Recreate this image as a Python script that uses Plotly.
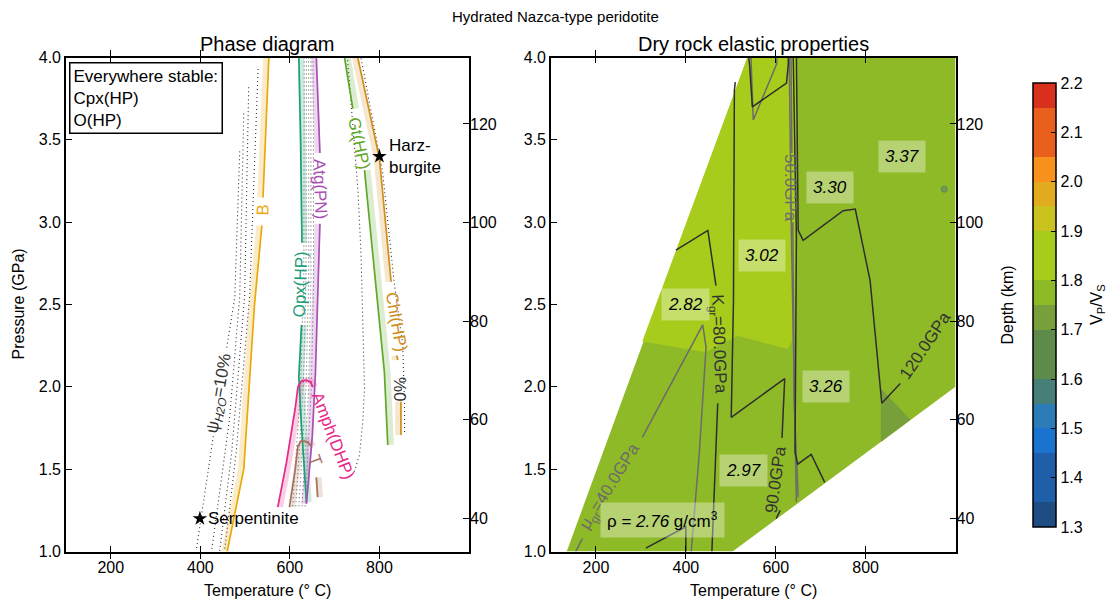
import plotly.graph_objects as go

W, H = 1110, 604
FONT = "Liberation Sans, Arial, sans-serif"

# ---------------- axes ----------------
T_RANGE = [100, 1000]
P_RANGE = [1.0, 4.0]
DEPTH_RANGE = [33.27, 133.49]
T_TICKS = [200, 400, 600, 800]
P_TICKS = [1.0, 1.5, 2.0, 2.5, 3.0, 3.5, 4.0]
DEPTH_TICKS = [40, 60, 80, 100, 120]
VPVS_TICKS = [1.3, 1.4, 1.5, 1.6, 1.7, 1.8, 1.9, 2.0, 2.1, 2.2]

# ---------------- phase diagram: stability lines (T in C, P in GPa) ----------------
B_T = [553, 545, 540, None, 537.5, 521, 509, 497, 460]
B_P = [4.0, 3.5, 3.15, None, 2.98, 2.5, 2.0, 1.5, 1.0]
OPX_T = [620, 624, 627, None, 626, 622, 620, 625, 631, 637]
OPX_P = [4.0, 3.5, 2.875, None, 2.375, 2.2, 2.06, 1.8, 1.51, 1.30]
ATG_T = [659, 667, None, 667, 663, 657, 650, 637]
ATG_P = [4.0, 3.42, None, 2.99, 2.65, 2.08, 1.7, 1.29]
GT_T = [722, 740.5, None, 766.6, 792.6, 811, 818.6]
GT_P = [4.0, 3.69, None, 3.316, 2.6, 2.09, 1.647]
CHL_T = [751.6, 800, 826, None, 839, 841, None, 848, 848]
CHL_P = [4.0, 3.387, 2.638, None, 2.19, 2.163, None, 1.91, 1.707]
AMPH_T = [573, 592, 612, 618, 626, 637, 646, 651]
AMPH_P = [1.27, 1.535, 1.87, 2.0, 2.035, 2.04, 2.03, 2.0]
TALC_T = [599, 612, 618, 625, 633, 641, 648, None, 659, 662]
TALC_P = [1.27, 1.5, 1.64, 1.67, 1.67, 1.66, 1.64, None, 1.45, 1.33]

# water-content (psi_H2O) dotted contours
PSI1_T = [488, 477, 458, None, 429, 391]
PSI1_P = [3.43, 2.547, 2.22, None, 1.70, 1.01]
PSI2_T = [497, 488, 465, 425]
PSI2_P = [3.66, 2.55, 1.8, 1.0]
PSI3_T = [508, 499, 470, 443]
PSI3_P = [3.82, 2.55, 1.6, 1.0]
PSI4_T = [529, 510, 480, 454]
PSI4_P = [3.93, 2.55, 1.6, 1.0]
HATCH_P = [4.0, 2.65, 2.0, 1.27]
HATCH_T = [
    [632, 631, 624, 606],
    [637, 636, 630, 613],
    [642, 642, 636, 620],
    [647, 647, 642, 627],
    [652, 653, 648, 634],
]
PSIR1_T = [729, 751.7, 759, 762.8, 766.6, 762.8, 755.4, 744]
PSIR1_P = [3.984, 3.205, 2.80, 2.395, 1.991, 1.788, 1.586, 1.485]
PSIR2_T = [759, 783, 807, 833.5, 852, 856, 856]
PSIR2_P = [3.995, 3.65, 3.306, 2.618, 2.254, 1.9, 1.707]

# phase labels: text, T, P, angle, colour key
PHASE_LABELS = [
    ("B", 540, 3.07, -88, "B"),
    ("Opx(HP)", 624, 2.62, -88, "OPX"),
    ("Atg(PN)", 668, 3.2, 88, "ATG"),
    ("Gt(HP)", 755, 3.48, 78, "GT"),
    ("Chl(HP)", 837, 2.395, 80, "CHL"),
    ("Amph(DHP)", 697, 1.70, 69, "AMPH"),
    ("T", 655, 1.556, 70, "TALC"),
    ("0%", 848, 1.99, -90, "DOT"),
    ("ψ<sub><i>H2O</i></sub>=10%", 445, 1.96, -80, "DOT"),
]

# rock samples
SAMPLE_NAMES = ["Harz-<br>burgite", "Serpentinite"]
SAMPLE_T = [800, 399]
SAMPLE_P = [3.40, 1.20]

# ---------------- elastic properties panel ----------------
VPVS_LEVELS = [1.3, 1.35, 1.45, 1.5, 1.55, 1.6, 1.7, 1.75, 1.8, 1.9, 1.95, 2.0, 2.05, 2.15, 2.2]
VPVS_COLORS = ["#1d4d82", "#1f5ea8", "#1a73cf", "#2c7cb8", "#457f78", "#5e8a4a", "#78a03a",
               "#8fba28", "#a8cc1c", "#c9c21f", "#e2ab1e", "#f7921d", "#e9601c", "#d9311e"]

REGION_MAIN_T = [135, 537, 1000, 1000, 504]
REGION_MAIN_P = [1.0, 4.0, 4.0, 2.0, 1.0]
REGION_MAIN_V = 1.78
REGION_UP_T = [537, 646, 645, 640, 627, 515, 445, 303]
REGION_UP_P = [4.0, 4.0, 3.0, 2.3, 2.23, 2.31, 2.21, 2.275]
REGION_UP_V = 1.85
REGION_PATCH_T = [834, 834, 900]
REGION_PATCH_P = [1.99, 1.665, 1.80]
REGION_PATCH_V = 1.73
SPOT_T, SPOT_P = [975], [3.20]

# bulk modulus (dark) and shear modulus (grey) contours
K_LINES = [
    ([378, 449, 467], [2.83, 2.95, 2.615]),
    ([471, 465, 458], [1.90, 1.5, 1.0]),
    ([311, 400, 400], [1.02, 1.15, 1.0]),
    ([510, 508, 506, 501, 620, 614], [3.85, 3.80, 2.52, 1.815, 2.05, 1.69]),
    ([610, 601], [1.25, 1.2]),
    ([540, 542, 548, 624, 628, 628], [4.0, 3.95, 3.70, 3.845, 3.96, 4.0]),
    ([639, 646, 643, 649, 679, 709], [4.0, 2.91, 1.6, 1.53, 1.59, 1.42]),
    ([646, 650, 661, 750, 777, 790, 810, 836, 877], [4.0, 2.95, 2.89, 3.07, 3.08, 2.90, 2.645, 1.90, 2.02]),
]
MU_LINES = [
    ([303.5, 437.6, 445, 430, 412], [1.694, 2.376, 2.24, 1.6, 1.0]),
    ([155, 170], [1.0, 1.08]),
    ([545, 546, 550, 602, 603], [4.0, 3.93, 3.62, 3.96, 4.0]),
    ([630, 635, 646], [4.0, 2.91, 1.30]),
    ([634, 636], [4.0, 3.42]),
    ([638, 641, 650], [3.0, 1.9, 1.33]),
]
MODULUS_LABELS = [
    ("K<sub>gr</sub>=80.0GPa", 471, 2.26, 88, "#333333"),
    ("90.0GPa", 599, 1.44, -82, "#333333"),
    ("120.0GPa", 933, 2.25, -56, "#333333"),
    ("μ<sub>gr</sub>=40.0GPa", 233, 1.39, -58, "#6b6b6b"),
    ("50.0GPa", 633, 3.21, 90, "#6b6b6b"),
]
DENSITY_TEXT = ["3.37", "3.30", "3.02", "2.82", "3.26", "2.97"]
DENSITY_T = [881, 721, 570, 399, 711, 529]
DENSITY_P = [3.40, 3.21, 2.80, 2.50, 2.00, 1.49]
RHO_LABEL_T, RHO_LABEL_P, RHO_VALUE = 347, 1.19, "2.76"

# ---------------- styles ----------------
COL = {
    "B": "#eaa90a", "OPX": "#1b9e77", "ATG": "#a84fb4", "GT": "#5fa82a",
    "CHL": "#d08e1a", "AMPH": "#e7298a", "TALC": "#a8705c", "DOT": "#333333",
}
BAND_ALPHA = 0.22
LBL = 17


def hex_rgba(h, a):
    h = h.lstrip("#")
    return "rgba(%d,%d,%d,%.2f)" % (int(h[0:2], 16), int(h[2:4], 16), int(h[4:6], 16), a)


def vpvs_color(v):
    for i in range(len(VPVS_COLORS)):
        if VPVS_LEVELS[i] <= v < VPVS_LEVELS[i + 1]:
            return VPVS_COLORS[i]
    return VPVS_COLORS[-1]


def norm(v):
    return min(1.0, max(0.0, round((v - VPVS_LEVELS[0]) / (VPVS_LEVELS[-1] - VPVS_LEVELS[0]), 6)))


colorscale = []
for i, c in enumerate(VPVS_COLORS):
    colorscale.append([norm(VPVS_LEVELS[i]), c])
    colorscale.append([norm(VPVS_LEVELS[i + 1]), c])
colorscale[0][0] = 0.0
colorscale[-1][0] = 1.0

fig = go.Figure()


def add_line(T, P, color, width=1.6, dash=None, xa="x", ya="y", opacity=1.0):
    fig.add_trace(go.Scatter(x=T, y=P, mode="lines", xaxis=xa, yaxis=ya,
                             line=dict(color=color, width=width, dash=dash),
                             opacity=opacity, hoverinfo="skip", showlegend=False,
                             connectgaps=False))


def shifted(T, dT):
    return [None if t is None else t + dT for t in T]


# ---- left panel ----
band_defs = [(B_T, B_P, "B", -6), (OPX_T, OPX_P, "OPX", 5), (ATG_T, ATG_P, "ATG", -5),
             (GT_T, GT_P, "GT", 7), (CHL_T, CHL_P, "CHL", -6), (AMPH_T, AMPH_P, "AMPH", 5),
             (TALC_T, TALC_P, "TALC", 5)]
for T, P, key, off in band_defs:
    add_line(shifted(T, off), P, hex_rgba(COL[key], BAND_ALPHA), width=6)

dot_style = "1px,3px"
for T, P in [(PSI1_T, PSI1_P), (PSI2_T, PSI2_P), (PSI3_T, PSI3_P), (PSI4_T, PSI4_P),
             (PSIR1_T, PSIR1_P), (PSIR2_T, PSIR2_P)]:
    add_line(T, P, "#333333", width=1.1, dash=dot_style)
for T in HATCH_T:
    add_line(T, HATCH_P, "#555555", width=1.0, dash=dot_style)

for T, P, key in [(B_T, B_P, "B"), (OPX_T, OPX_P, "OPX"), (ATG_T, ATG_P, "ATG"),
                  (GT_T, GT_P, "GT"), (CHL_T, CHL_P, "CHL"), (AMPH_T, AMPH_P, "AMPH"),
                  (TALC_T, TALC_P, "TALC")]:
    add_line(T, P, COL[key], width=1.7)

fig.add_trace(go.Scatter(x=SAMPLE_T, y=SAMPLE_P, mode="markers", xaxis="x", yaxis="y",
                         marker=dict(symbol="star", size=11, color="black"),
                         hoverinfo="skip", showlegend=False))

# ---- right panel ----
for T, P, v in [(REGION_MAIN_T, REGION_MAIN_P, REGION_MAIN_V),
                (REGION_UP_T, REGION_UP_P, REGION_UP_V),
                (REGION_PATCH_T, REGION_PATCH_P, REGION_PATCH_V)]:
    fig.add_trace(go.Scatter(x=T, y=P, mode="lines", fill="toself", xaxis="x2", yaxis="y3",
                             fillcolor=vpvs_color(v), line=dict(width=0, color=vpvs_color(v)),
                             hoverinfo="skip", showlegend=False))
fig.add_trace(go.Scatter(x=SPOT_T, y=SPOT_P, mode="markers", xaxis="x2", yaxis="y3",
                         marker=dict(symbol="circle", size=6, color="#6f9a5a",
                                     line=dict(color="#5e8a4a", width=1)),
                         hoverinfo="skip", showlegend=False))

for T, P in MU_LINES:
    add_line(T, P, "#6b6b6b", width=1.5, xa="x2", ya="y3")
for T, P in K_LINES:
    add_line(T, P, "#2e2e2e", width=1.5, xa="x2", ya="y3")

# colorbar carrier
fig.add_trace(go.Scatter(
    x=[REGION_MAIN_T[0]], y=[REGION_MAIN_P[0]], xaxis="x2", yaxis="y3", mode="markers",
    marker=dict(size=1, opacity=0, color=[REGION_MAIN_V], colorscale=colorscale,
                cmin=VPVS_LEVELS[0], cmax=VPVS_LEVELS[-1], showscale=True,
                colorbar=dict(x=1033 / W, xanchor="left", xref="paper",
                              y=(H - 305) / H, yanchor="middle", yref="paper",
                              len=444, lenmode="pixels", thickness=23, thicknessmode="pixels",
                              outlinewidth=1.5, outlinecolor="black", xpad=0, ypad=0,
                              tickvals=VPVS_TICKS, ticktext=["%.1f" % v for v in VPVS_TICKS],
                              ticks="inside", ticklen=5, tickcolor="black",
                              tickfont=dict(size=16, color="black", family=FONT))),
    hoverinfo="skip", showlegend=False))

# ---------------- annotations ----------------
ann = []


def A(**kw):
    kw.setdefault("showarrow", False)
    kw.setdefault("xanchor", "center")
    kw.setdefault("yanchor", "middle")
    ann.append(kw)


for text, T, P, ang, key in PHASE_LABELS:
    A(x=T, y=P, xref="x", yref="y", text=text, textangle=ang,
      font=dict(size=LBL, color=COL[key], family=FONT))
A(x=SAMPLE_T[0], y=SAMPLE_P[0], xref="x", yref="y", text=SAMPLE_NAMES[0],
  xanchor="left", xshift=8, align="left", font=dict(size=LBL, color="black", family=FONT))
A(x=SAMPLE_T[1], y=SAMPLE_P[1], xref="x", yref="y", text=SAMPLE_NAMES[1],
  xanchor="left", xshift=6, align="left", font=dict(size=LBL, color="black", family=FONT))
A(x=68.5 / W, y=(H - 62.5) / H, xref="paper", yref="paper",
  text="Everywhere stable:<br>Cpx(HP)<br>O(HP)",
  xanchor="left", yanchor="top", align="left", bgcolor="white",
  bordercolor="black", borderwidth=1.5, borderpad=3,
  font=dict(size=LBL, color="black", family=FONT))

for text, T, P, ang, c in MODULUS_LABELS:
    A(x=T, y=P, xref="x2", yref="y3", text=text, textangle=ang,
      font=dict(size=LBL, color=c, family=FONT))
for text, T, P in zip(DENSITY_TEXT, DENSITY_T, DENSITY_P):
    A(x=T, y=P, xref="x2", yref="y3", text="<i>%s</i>" % text,
      bgcolor="rgba(255,255,255,0.35)", borderpad=6,
      font=dict(size=LBL, color="black", family=FONT))
A(x=RHO_LABEL_T, y=RHO_LABEL_P, xref="x2", yref="y3",
  text="ρ = <i>%s</i> g/cm<sup>3</sup>" % RHO_VALUE,
  bgcolor="rgba(255,255,255,0.35)", borderpad=6,
  font=dict(size=LBL, color="black", family=FONT))

A(x=0.5, y=(H - 16) / H, xref="paper", yref="paper", text="Hydrated Nazca-type peridotite",
  font=dict(size=15, color="black", family=FONT))
A(x=267.5 / W, y=(H - 44) / H, xref="paper", yref="paper", text="Phase diagram",
  font=dict(size=20, color="black", family=FONT))
A(x=753 / W, y=(H - 44) / H, xref="paper", yref="paper", text="Dry rock elastic properties",
  font=dict(size=20, color="black", family=FONT))
A(x=18 / W, y=(H - 304.5) / H, xref="paper", yref="paper", text="Pressure (GPa)",
  textangle=-90, font=dict(size=16, color="black", family=FONT))
A(x=267.5 / W, y=(H - 590) / H, xref="paper", yref="paper", text="Temperature (° C)",
  font=dict(size=16, color="black", family=FONT))
A(x=753 / W, y=(H - 590) / H, xref="paper", yref="paper", text="Temperature (° C)",
  font=dict(size=16, color="black", family=FONT))
A(x=1007 / W, y=(H - 304.5) / H, xref="paper", yref="paper", text="Depth (km)",
  textangle=-90, font=dict(size=16, color="black", family=FONT))
A(x=1097 / W, y=(H - 305) / H, xref="paper", yref="paper",
  text="V<sub>P</sub>/V<sub>S</sub>", textangle=-90,
  font=dict(size=16, color="black", family=FONT))

# ---------------- layout ----------------
XL = [66 / W, 469 / W]
XR = [551 / W, 955.5 / W]
YD = [52.5 / H, 546.5 / H]
common = dict(showline=True, linecolor="black", linewidth=1.6, ticks="inside", ticklen=6,
              tickwidth=1, tickcolor="black", showgrid=False, zeroline=False, automargin=False,
              tickfont=dict(size=16, color="black", family=FONT))

fig.add_trace(go.Scatter(x=[None], y=[None], xaxis="x", yaxis="y2", showlegend=False))
fig.add_trace(go.Scatter(x=[None], y=[None], xaxis="x2", yaxis="y4", showlegend=False))

fig.update_layout(
    width=W, height=H, margin=dict(l=0, r=0, t=0, b=0, autoexpand=False),
    paper_bgcolor="white", plot_bgcolor="white", showlegend=False,
    font=dict(family=FONT, color="black"),
    xaxis=dict(domain=XL, range=T_RANGE, tickvals=T_TICKS, anchor="y", mirror="allticks", **common),
    yaxis=dict(domain=YD, range=P_RANGE, tickvals=P_TICKS, tickformat=".1f", anchor="x",
               mirror=True, **common),
    yaxis2=dict(overlaying="y", side="right", anchor="x", range=DEPTH_RANGE,
                tickvals=DEPTH_TICKS, **{**common, "showline": False}),
    xaxis2=dict(domain=XR, range=T_RANGE, tickvals=T_TICKS, anchor="y3", mirror="allticks", **common),
    yaxis3=dict(domain=YD, range=P_RANGE, tickvals=P_TICKS, tickformat=".1f", anchor="x2",
                mirror=True, **common),
    yaxis4=dict(overlaying="y3", side="right", anchor="x2", range=DEPTH_RANGE,
                tickvals=DEPTH_TICKS, **{**common, "showline": False}),
    annotations=ann,
)

fig.write_html("out.html", config={"displayModeBar": False},
               post_script="document.body.style.margin='0px';")
